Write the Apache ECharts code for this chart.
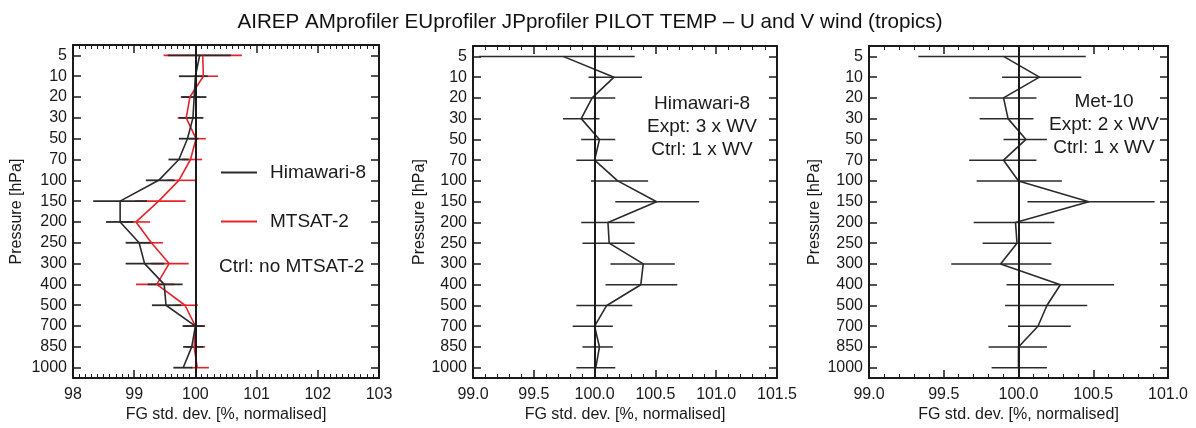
<!DOCTYPE html>
<html>
<head>
<meta charset="utf-8">
<script src="https://cdn.jsdelivr.net/npm/echarts@6/dist/echarts.min.js"></script>
<style>
    html, body {margin: 0; padding: 0; background: #fff;}
    #main {width: 1196px; height: 428px;}
</style>
</head>
<body>
<div id="main"></div>
<script>
var levels = ['5','10','20','30','50','70','100','150','200','250','300','400','500','700','850','1000'];

// panel 1: Himawari-8 (black) and MTSAT-2 (red)
var him8_val = [100.07, 100.0, 99.98, 99.96, 99.87, 99.73, 99.40, 98.77, 98.77, 99.08, 99.17, 99.49, 99.52, 100.0, 99.94, 99.80];
var him8_lo  = [99.55, 99.73, 99.77, 99.73, 99.73, 99.56, 99.19, 98.33, 98.54, 98.86, 98.86, 99.22, 99.29, 99.79, 99.80, 99.64];
var him8_hi  = [100.58, 100.20, 100.18, 100.13, 100.05, 99.89, 99.66, 99.21, 98.99, 99.30, 99.49, 99.79, 99.77, 100.15, 100.13, 99.95];

var mtsat_val = [100.12, 100.13, 99.91, 99.85, 100.01, 99.92, 99.73, 99.40, 99.03, 99.28, 99.57, 99.37, 99.83, 100.0, 99.98, 100.03];
var mtsat_lo  = [99.48, 99.97, 99.76, 99.71, 99.90, 99.78, 99.54, 99.02, 98.83, 99.09, 99.28, 99.03, 99.67, 99.82, 99.85, 99.93];
var mtsat_hi  = [100.76, 100.37, 100.08, 100.0, 100.17, 100.11, 100.02, 99.84, 99.26, 99.47, 99.89, 99.66, 100.04, 100.16, 100.16, 100.22];

// panel 2: Himawari-8, 3 x WV vs 1 x WV
var wv3_val = [99.74, 100.16, 99.98, 99.89, 100.04, 100.0, 100.19, 100.51, 100.11, 100.12, 100.40, 100.38, 100.10, 100.0, 100.04, 100.01];
var wv3_lo  = [99.05, 99.95, 99.80, 99.74, 99.89, 99.85, 99.97, 100.17, 99.89, 99.90, 100.13, 100.09, 99.85, 99.82, 99.90, 99.85];
var wv3_hi  = [100.33, 100.39, 100.17, 100.04, 100.17, 100.15, 100.44, 100.86, 100.33, 100.33, 100.66, 100.68, 100.31, 100.15, 100.15, 100.17];

// panel 3: Met-10, 2 x WV vs 1 x WV
var met10_val = [99.90, 100.14, 99.90, 99.93, 100.05, 99.90, 100.0, 100.47, 99.98, 99.99, 99.88, 100.28, 100.19, 100.13, 100.0, 100.0];
var met10_lo  = [99.33, 99.89, 99.67, 99.74, 99.90, 99.67, 99.72, 100.06, 99.70, 99.76, 99.55, 99.92, 99.91, 99.93, 99.80, 99.82];
var met10_hi  = [100.45, 100.42, 100.12, 100.10, 100.19, 100.12, 100.29, 100.91, 100.24, 100.22, 100.22, 100.64, 100.46, 100.35, 100.19, 100.19];

var xTicks1 = [98, 103, 1];
var xTicks2 = [99, 101.5, 0.5];
var xTicks3 = [99, 101, 0.5];

var FONT = '"Liberation Sans", Arial, Helvetica, sans-serif';
var INK = '#1a1a1a';

function pairs(vals) {
    var out = [];
    for (var i = 0; i < vals.length; i++) {
        out.push([vals[i], levels[i]]);
    }
    return out;
}
function bars(lo, hi) {
    var out = [];
    for (var i = 0; i < lo.length; i++) {
        out.push([lo[i], hi[i], levels[i]]);
    }
    return out;
}

function makeX(grid, ticks, minorSplit, decimals, top) {
    return {
        type: 'value',
        gridIndex: grid,
        position: top ? 'top' : 'bottom',
        min: ticks[0],
        max: ticks[1],
        interval: ticks[2],
        name: top ? '' : 'FG std. dev. [%, normalised]',
        nameLocation: 'middle',
        nameGap: 27,
        nameTextStyle: {fontFamily: FONT, fontSize: 16, color: INK},
        axisLine: {show: true, onZero: false, lineStyle: {color: INK, width: 2}},
        axisTick: {show: true, inside: true, length: 8, lineStyle: {color: INK, width: 1.5}},
        minorTick: {show: true, splitNumber: minorSplit, length: 4, lineStyle: {color: INK, width: 1}},
        splitLine: {show: false},
        axisLabel: {
            show: !top,
            margin: 8,
            fontFamily: FONT,
            fontSize: 16,
            color: INK,
            formatter: function (v) { return v.toFixed(decimals); }
        }
    };
}
function makeY(grid, gap, right) {
    return {
        type: 'category',
        gridIndex: grid,
        position: right ? 'right' : 'left',
        data: levels,
        inverse: true,
        boundaryGap: true,
        name: right ? '' : 'Pressure [hPa]',
        nameLocation: 'middle',
        nameRotate: 90,
        nameGap: gap,
        nameTextStyle: {fontFamily: FONT, fontSize: 16, color: INK},
        axisLine: {show: true, lineStyle: {color: INK, width: 2}},
        axisTick: {show: true, inside: true, alignWithLabel: true, interval: 0, length: 8, lineStyle: {color: INK, width: 1.5}},
        splitLine: {show: false},
        axisLabel: {show: !right, interval: 0, margin: 6, fontFamily: FONT, fontSize: 16, color: INK}
    };
}

function errorBars(name, lo, hi, axis, color, width) {
    return {
        name: name,
        type: 'custom',
        xAxisIndex: axis,
        yAxisIndex: axis,
        data: bars(lo, hi),
        encode: {x: [0, 1], y: 2},
        silent: true,
        renderItem: function (params, api) {
            var a = api.coord([api.value(0), api.value(2)]);
            var b = api.coord([api.value(1), api.value(2)]);
            return {
                type: 'line',
                shape: {x1: a[0], y1: a[1], x2: b[0], y2: b[1]},
                style: {stroke: color, lineWidth: width}
            };
        }
    };
}
function profile(name, vals, axis, color, withRef) {
    var s = {
        name: name,
        type: 'line',
        xAxisIndex: axis,
        yAxisIndex: axis,
        data: pairs(vals),
        symbol: 'none',
        color: color,
        lineStyle: {color: color, width: 1.6},
        silent: true,
        z: 3
    };
    if (withRef) {
        s.markLine = {
            silent: true,
            symbol: 'none',
            label: {show: false},
            lineStyle: {color: INK, width: 2, type: 'solid'},
            data: [{xAxis: 100}]
        };
    }
    return s;
}

var chart = echarts.init(document.getElementById('main'));

var option = {
    backgroundColor: '#fff',
    animation: false,
    grid: [
        {left: 73, top: 45, width: 306, height: 344},
        {left: 473, top: 46, width: 304, height: 344},
        {left: 869, top: 46, width: 299, height: 344}
    ],
    // bottom axes are 0..2, mirrored top axes are 3..5
    xAxis: [
        makeX(0, xTicks1, 10, 0, false),
        makeX(1, xTicks2, 5, 1, false),
        makeX(2, xTicks3, 5, 1, false),
        makeX(0, xTicks1, 10, 0, true),
        makeX(1, xTicks2, 5, 1, true),
        makeX(2, xTicks3, 5, 1, true)
    ],
    yAxis: [
        makeY(0, 48, false),
        makeY(1, 45, false),
        makeY(2, 46, false),
        makeY(0, 0, true),
        makeY(1, 0, true),
        makeY(2, 0, true)
    ],
    legend: {
        orient: 'vertical',
        left: 216,
        top: 158,
        itemGap: 30,
        itemWidth: 36,
        itemHeight: 2,
        selectedMode: false,
        textStyle: {fontFamily: FONT, fontSize: 19, color: INK, padding: [0, 0, 0, 8]},
        data: [
            {name: 'Himawari-8', icon: 'rect'},
            {name: 'MTSAT-2', icon: 'rect'}
        ]
    },
    graphic: [
        {type: 'text', x: 590, y: 22, style: {
            text: 'AIREP AMprofiler EUprofiler JPprofiler PILOT TEMP \u2013 U and V wind (tropics)',
            font: '20.6px ' + FONT, fill: '#111', align: 'center', verticalAlign: 'middle'}},
        {type: 'text', x: 219, y: 267, style: {
            text: 'Ctrl: no MTSAT-2', font: '19px ' + FONT, fill: INK, verticalAlign: 'middle'}},
        {type: 'text', x: 702, y: 127, style: {
            text: 'Himawari-8\nExpt: 3 x WV\nCtrl: 1 x WV', font: '19px ' + FONT, fill: INK,
            align: 'center', verticalAlign: 'middle', lineHeight: 23}},
        {type: 'text', x: 1104, y: 125, style: {
            text: 'Met-10\nExpt: 2 x WV\nCtrl: 1 x WV', font: '19px ' + FONT, fill: INK,
            align: 'center', verticalAlign: 'middle', lineHeight: 23}}
    ],
    series: [
        errorBars('mtsat_err', mtsat_lo, mtsat_hi, 0, '#e3242b', 1.6),
        errorBars('him8_err', him8_lo, him8_hi, 0, '#2a2a2a', 1.8),
        profile('MTSAT-2', mtsat_val, 0, '#e3242b', false),
        profile('Himawari-8', him8_val, 0, '#2a2a2a', true),
        errorBars('wv3_err', wv3_lo, wv3_hi, 1, '#2a2a2a', 1.5),
        profile('Himawari-8 3xWV', wv3_val, 1, '#2a2a2a', true),
        errorBars('met10_err', met10_lo, met10_hi, 2, '#2a2a2a', 1.5),
        profile('Met-10 2xWV', met10_val, 2, '#2a2a2a', true)
    ]
};
chart.setOption(option);
</script>
</body>
</html>
